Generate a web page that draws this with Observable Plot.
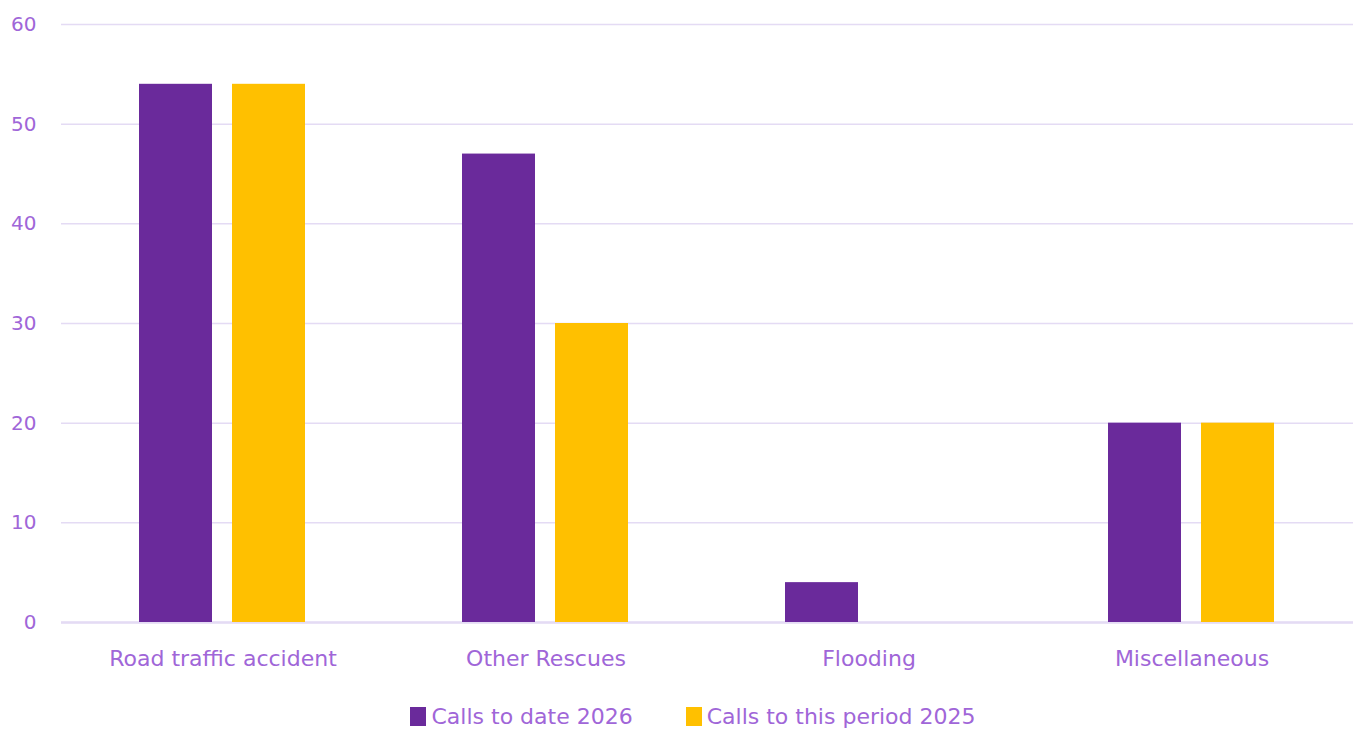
<!DOCTYPE html>
<html>
<head>
<meta charset="utf-8">
<script src="https://cdn.jsdelivr.net/npm/d3@7"></script>
<script src="https://cdn.jsdelivr.net/npm/@observablehq/plot@0.6"></script>
<style>
  body { margin: 0; background: #fff; font-family: "DejaVu Sans", sans-serif; }
  #legend { display: flex; justify-content: center; gap: 53px; margin-top: 14px; padding-left: 25px; color: #a066d8; font-size: 22px; }
  .item { display: flex; align-items: center; gap: 5px; }
  .sw { width: 16px; height: 19px; display: inline-block; }
</style>
</head>
<body>
<div id="chart"></div>
<div id="legend"></div>
<script>
const categories = ["Road traffic accident", "Other Rescues", "Flooding", "Miscellaneous"];
const seriesNames = ["Calls to date 2026", "Calls to this period 2025"];
const calls2026 = [54, 47, 4, 20];
const calls2025 = [54, 30, 0, 20];
const colors = ["#6a2a9b", "#ffc000"];
const yTicks = [0, 10, 20, 30, 40, 50, 60];

const data = [];
categories.forEach((c, i) => {
  data.push({category: c, series: seriesNames[0], value: calls2026[i]});
  data.push({category: c, series: seriesNames[1], value: calls2025[i]});
});

const chart = Plot.plot({
  width: 1361,
  height: 690,
  marginLeft: 60,
  marginRight: 8,
  marginTop: 24,
  marginBottom: 68,
  style: {fontFamily: "'DejaVu Sans', sans-serif", fontSize: "20px", color: "#a066d8", background: "#fff"},
  fx: {domain: categories, padding: 0, label: null},
  x: {domain: seriesNames, paddingInner: 0.215, paddingOuter: 0.844, align: 0.5, axis: null},
  y: {domain: [0, 60], ticks: yTicks, label: null},
  color: {domain: seriesNames, range: colors},
  marks: [
    Plot.gridY(yTicks, {stroke: "#e4dbf4", strokeOpacity: 1, strokeWidth: 1.5}),
    Plot.ruleY([0], {stroke: "#e4dbf4", strokeWidth: 2.5}),
    Plot.barY(data, {fx: "category", x: "series", y: "value", fill: "series"}),
    Plot.axisY(yTicks, {tickSize: 0, tickPadding: 25, fill: "#a066d8", fontSize: 20}),
    Plot.axisFx({anchor: "bottom", tickSize: 0, tickPadding: 28, fill: "#a066d8", fontSize: 22, label: null})
  ]
});
document.getElementById("chart").append(chart);

const legend = document.getElementById("legend");
seriesNames.forEach((s, i) => {
  const item = document.createElement("span");
  item.className = "item";
  const sw = document.createElement("span");
  sw.className = "sw";
  sw.style.background = colors[i];
  item.append(sw, document.createTextNode(s));
  legend.append(item);
});
</script>
</body>
</html>
